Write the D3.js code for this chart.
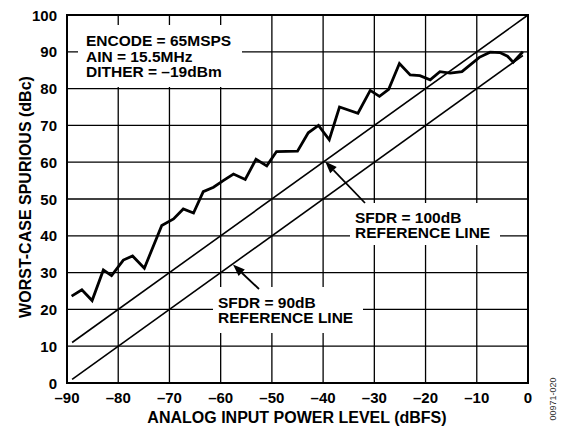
<!DOCTYPE html>
<html>
<head>
<meta charset="utf-8">
<script src="https://cdn.jsdelivr.net/npm/d3@7/dist/d3.min.js"></script>
<style>
  html, body { margin: 0; padding: 0; background: #fff; }
  svg { display: block; }
  text { font-family: "Liberation Sans", Arial, Helvetica, sans-serif; font-weight: bold; fill: #000; }
</style>
</head>
<body>
<svg id="chart" width="566" height="428"></svg>
<script>
// ---- data ----
const inputLevel = [-89.1, -87.1, -85.1, -82.9, -81.3, -79.0, -77.2, -74.9, -71.5, -69.2,
  -67.3, -65.3, -63.4, -61.4, -59.5, -57.5, -55.2, -53.1, -51.0, -49.1,
  -45.0, -42.9, -40.9, -38.8, -36.8, -33.2, -30.8, -29.0, -27.2, -25.1,
  -23.0, -21.1, -19.1, -17.2, -15.2, -12.9, -9.5, -7.4, -5.5, -4.0, -2.9, -1.0];
const spurious = [23.6, 25.3, 22.4, 30.7, 29.2, 33.4, 34.5, 31.2, 42.8, 44.6,
  47.3, 46.2, 52.0, 53.2, 55.0, 56.8, 55.3, 60.8, 59.0, 62.9,
  63.0, 68.0, 70.0, 66.1, 75.0, 73.3, 79.5, 77.9, 79.8, 86.8,
  83.7, 83.5, 82.4, 84.6, 84.2, 84.6, 88.5, 89.9, 89.8, 88.8, 87.2, 90.0];
const ref100 = [[-89, 11], [0, 100]];
const ref90 = [[-89, 1], [-1, 89]];
const xTicks = [-90, -80, -70, -60, -50, -40, -30, -20, -10, 0];
const yTicks = [0, 10, 20, 30, 40, 50, 60, 70, 80, 90, 100];
const conditions = ["ENCODE = 65MSPS", "AIN = 15.5MHz", "DITHER = \u201319dBm"];
const label100 = ["SFDR = 100dB", "REFERENCE LINE"];
const label90 = ["SFDR = 90dB", "REFERENCE LINE"];
const xTitle = "ANALOG INPUT POWER LEVEL (dBFS)";
const yTitle = "WORST-CASE SPURIOUS (dBc)";
const figId = "00971-020";

// ---- layout ----
const svg = d3.select("#chart");
const L = 67, R = 528, T = 15, B = 383;
const x = d3.scaleLinear().domain([-90, 0]).range([L, R]);
const y = d3.scaleLinear().domain([0, 100]).range([B, T]);
const fmt = d => d < 0 ? "\u2013" + Math.abs(d) : String(d);

// grid
const g = svg.append("g");
g.selectAll("line.v").data(xTicks.slice(1, -1)).enter().append("line")
  .attr("x1", d => x(d)).attr("x2", d => x(d)).attr("y1", T).attr("y2", B)
  .attr("stroke", "#000").attr("stroke-width", 1.3);
g.selectAll("line.h").data(yTicks.slice(1, -1)).enter().append("line")
  .attr("y1", d => y(d)).attr("y2", d => y(d)).attr("x1", L).attr("x2", R)
  .attr("stroke", "#000").attr("stroke-width", 1.3);

// white label boxes hiding grid
const boxes = [[78, 25, 164, 62], [350, 203, 150, 42], [213, 287, 150, 46]];
svg.selectAll("rect.box").data(boxes).enter().append("rect")
  .attr("x", d => d[0]).attr("y", d => d[1]).attr("width", d => d[2]).attr("height", d => d[3])
  .attr("fill", "#fff");

// reference lines
const line = d3.line().x(d => x(d[0])).y(d => y(d[1]));
[ref100, ref90].forEach(r => {
  svg.append("path").attr("d", line(r)).attr("fill", "none")
    .attr("stroke", "#000").attr("stroke-width", 1.6);
});

// data curve
const pts = inputLevel.map((v, i) => [v, spurious[i]]);
svg.append("path").attr("d", line(pts)).attr("fill", "none")
  .attr("stroke", "#000").attr("stroke-width", 2.8).attr("stroke-linejoin", "miter");

// border
svg.append("rect").attr("x", L).attr("y", T).attr("width", R - L).attr("height", B - T)
  .attr("fill", "none").attr("stroke", "#000").attr("stroke-width", 2);

// arrows
function arrow(tail, tip) {
  const x1 = tail[0], y1 = tail[1], x2 = x(tip[0]), y2 = y(tip[1]);
  const ang = Math.atan2(y2 - y1, x2 - x1);
  const len = 12, w = 4.5;
  const bx = x2 - len * Math.cos(ang), by = y2 - len * Math.sin(ang);
  svg.append("line").attr("x1", x1).attr("y1", y1).attr("x2", bx).attr("y2", by)
    .attr("stroke", "#000").attr("stroke-width", 1.8);
  const p = [[x2, y2],
    [bx + w * Math.sin(ang), by - w * Math.cos(ang)],
    [bx - w * Math.sin(ang), by + w * Math.cos(ang)]];
  svg.append("polygon").attr("points", p.map(q => q.join(",")).join(" ")).attr("fill", "#000");
}
arrow([365, 203], [-39.6, 60.2]);
arrow([259, 289], [-57.6, 32.2]);

// tick labels
svg.selectAll("text.xt").data(xTicks).enter().append("text")
  .attr("x", d => x(d)).attr("y", 403).attr("text-anchor", "middle")
  .style("font-size", "15px").text(fmt);
svg.selectAll("text.yt").data(yTicks).enter().append("text")
  .attr("x", 57).attr("y", d => y(d) + 5.5).attr("text-anchor", "end")
  .style("font-size", "15px").text(fmt);

// axis titles
svg.append("text").attr("x", 297).attr("y", 423).attr("text-anchor", "middle")
  .style("font-size", "16px").text(xTitle);
svg.append("text").attr("transform", `translate(31,${(T + B) / 2 - 2}) rotate(-90)`)
  .attr("text-anchor", "middle").style("font-size", "16px").text(yTitle);

// annotations
function block(lines, x0, y0) {
  lines.forEach((t, i) => {
    svg.append("text").attr("x", x0).attr("y", y0 + i * 15.7)
      .style("font-size", "15.5px").text(t);
  });
}
block(conditions, 86, 46);
block(label100, 355, 222.7);
block(label90, 218, 307.5);

// figure id
svg.append("text").attr("transform", "translate(556,399) rotate(-90)")
  .attr("text-anchor", "middle").style("font-size", "9px").style("font-weight", "normal")
  .style("fill", "#333").text(figId);
</script>
</body>
</html>
